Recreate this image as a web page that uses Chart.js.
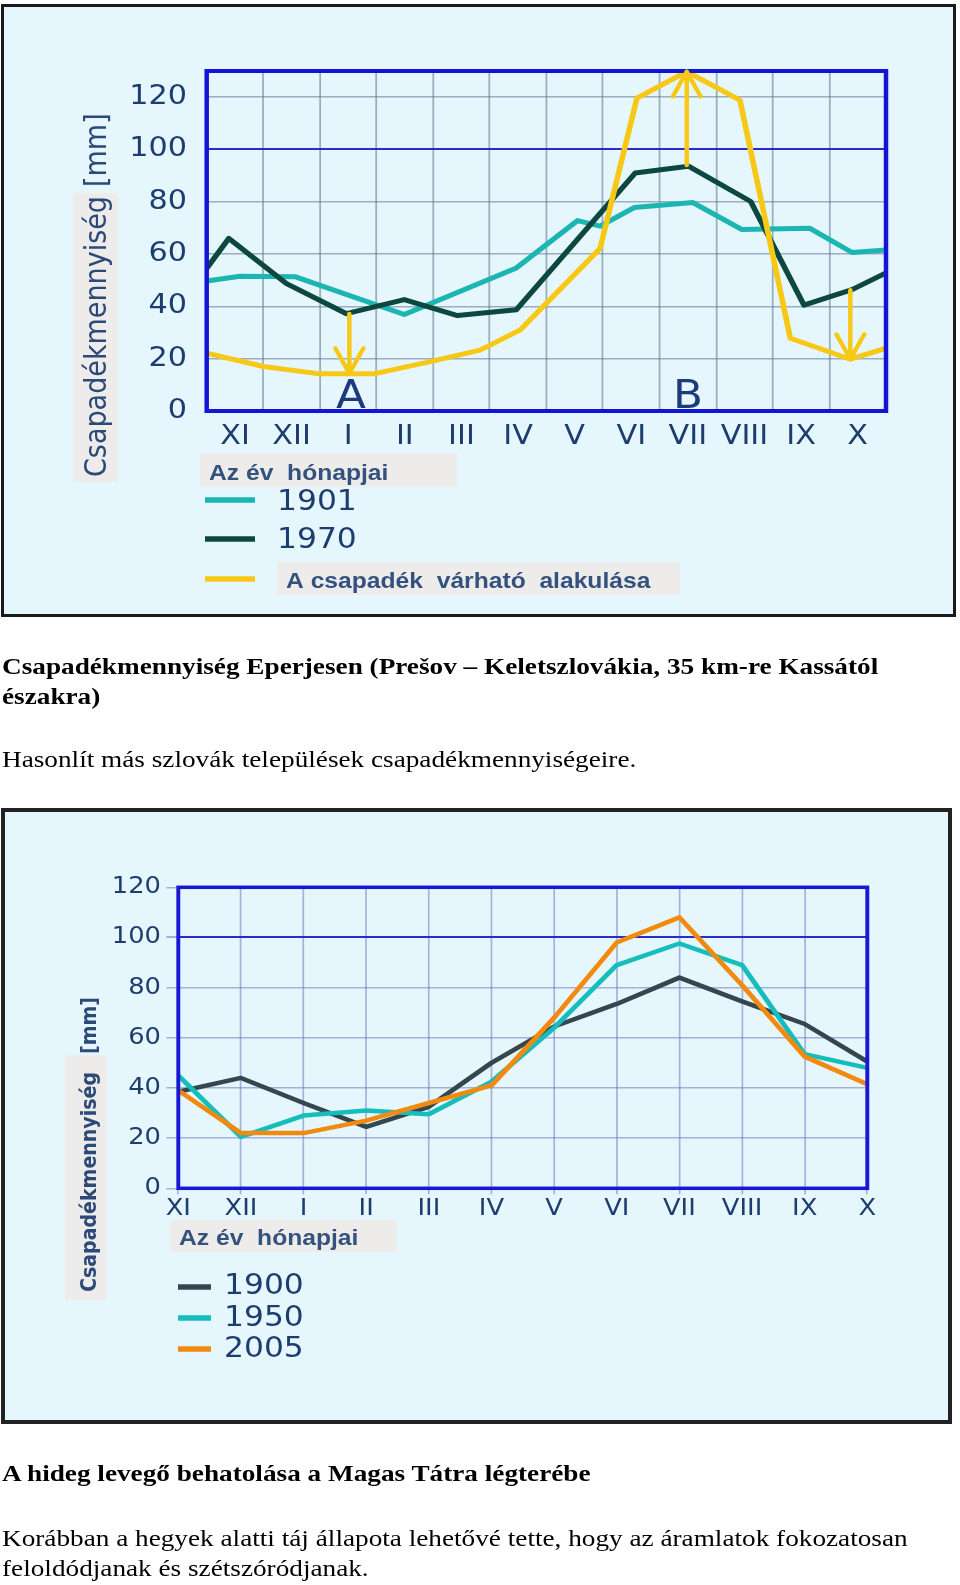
<!DOCTYPE html>
<html><head><meta charset="utf-8">
<script src="https://cdn.jsdelivr.net/npm/chart.js@4.4.1/dist/chart.umd.min.js"></script>
<style>
html,body{margin:0;padding:0;background:#fff;}
body{width:960px;height:1585px;position:relative;overflow:hidden;}
.box{position:absolute;box-sizing:border-box;background:#e5f6fc;}
#box1{left:1px;top:4px;width:955px;height:613px;border:3px solid #1a1a1a;}
#box2{left:1px;top:808px;width:951px;height:616px;border:4px solid #222;}
canvas{position:absolute;left:0;}
#c1{top:0;}
#c2{top:800px;}
.txt{position:absolute;left:0;top:0;width:800px;height:1585px;transform-origin:0 0;transform:scaleX(1.2);font-family:'Liberation Serif','Times New Roman',serif;font-size:22.7px;color:#000;}
.ln{position:absolute;left:1.7px;white-space:nowrap;line-height:1;}
.b{font-weight:bold;}
</style></head>
<body>
<div class="box" id="box1"></div>
<div class="box" id="box2"></div>
<canvas id="c1" width="857" height="620"></canvas>
<canvas id="c2" width="857" height="630"></canvas>
<div class="txt">
  <div class="ln b" style="top:656px">Csapadékmennyiség Eperjesen (Prešov – Keletszlovákia, 35 km-re Kassától</div>
  <div class="ln b" style="top:686px">északra)</div>
  <div class="ln" style="top:749px">Hasonlít más szlovák települések csapadékmennyiségeire.</div>
  <div class="ln b" style="top:1463px">A hideg levegő behatolása a Magas Tátra légterébe</div>
  <div class="ln" style="top:1528px">Korábban a hegyek alatti táj állapota lehetővé tette, hogy az áramlatok fokozatosan</div>
  <div class="ln" style="top:1558px">feloldódjanak és szétszóródjanak.</div>
</div>
<script>
// ---------- data ----------
const months = ['XI','XII','I','II','III','IV','V','VI','VII','VIII','IX','X'];

// chart 1 (x = month index, XI = 0)
const series1Names = ['1901', '1970', 'A csapadék  várható  alakulása'];
const c1X1901 = [-0.5, 0.09, 1.07, 2.99, 4.97, 6.05, 6.45, 7.05, 8.09, 8.95, 10.15, 10.9, 11.5];
const c1Y1901 = [49.7, 51.5, 51.3, 36.9, 54.7, 72.8, 70.7, 77.8, 79.7, 69.4, 69.9, 60.6, 61.6];
const c1X1970 = [-0.5, -0.11, 0.91, 1.97, 2.99, 3.93, 4.97, 7.07, 8.01, 9.11, 10.05, 10.9, 11.5];
const c1Y1970 = [54.5, 66.0, 48.7, 37.2, 42.6, 36.5, 38.7, 91.0, 93.6, 80.1, 40.5, 46.4, 52.8];
const c1XForecast = [-0.5, 0.5, 1.5, 2.45, 3.45, 4.33, 5.04, 6.45, 7.1, 7.98, 8.92, 9.81, 10.87, 11.5];
const c1YForecast = [22.1, 17.0, 14.2, 14.2, 18.9, 23.3, 31.0, 62.2, 119.6, 129.8, 118.9, 27.8, 19.8, 24.0];
const arrowX = [2.02, 7.98, 10.87];
const arrowFrom = [37.2, 94.0, 46.3];
const arrowTo = [14.4, 129.8, 19.8];
const markText = ['A', 'B'];
const markX = [2.05, 8.0];

// chart 2 (one value per month)
const series2Names = ['1900', '1950', '2005'];
const c2Y1900 = [38.5, 44.0, 34.0, 24.5, 32.5, 50.0, 64.5, 73.5, 84.0, 74.5, 65.5, 50.5];
const c2Y1950 = [45.0, 20.5, 29.0, 31.0, 29.5, 42.5, 64.0, 89.0, 97.6, 89.0, 53.5, 48.0];
const c2Y2005 = [39.0, 22.0, 22.0, 27.0, 34.0, 41.0, 68.0, 98.0, 108.0, 81.0, 52.5, 41.5];
const yTicksShown = [0, 20, 40, 60, 80, 100, 120];

// ---------- style ----------
const NAVY = '#1d3d6e', TITLE = '#2b4a78', LEGT = '#34527f', LABELBG = '#eeecea';
const TEAL1 = '#1bb6b1', DARK1 = '#0d4840', YELLOW = '#f7c816';
const DARK2 = '#34474f', TEAL2 = '#15bdbd', ORANGE = '#f28a10';
const GRID1 = 'rgba(95,115,140,0.55)', GRID2 = 'rgba(100,110,185,0.5)', BLUEL = '#2a2ad2';
const W = 857, S = 960 / W;

const pts = (xs, ys) => xs.map((x, i) => ({x, y: ys[i]}));
const idx = ys => ys.map((y, i) => ({x: i, y}));

function fillR(c, oy, x, y, w, h, col) { c.fillStyle = col; c.fillRect(x / S, y - oy, w / S, h); }
function txt(c, oy, s, x, y, font, col, rot) {
  c.save(); c.font = font; c.fillStyle = col; c.textAlign = 'left'; c.textBaseline = 'alphabetic';
  c.translate(x / S, y - oy); if (rot) c.rotate(-Math.PI / 2); c.fillText(s, 0, 0); c.restore();
}
function swatch(c, oy, x1, x2, y, col, lw) {
  c.save(); c.strokeStyle = col; c.lineWidth = lw; c.beginPath(); c.moveTo(x1 / S, y - oy); c.lineTo(x2 / S, y - oy); c.stroke(); c.restore();
}
function makeStretch(oy, decor, frameCol, frameW) {
  return {
    id: 'stretch',
    beforeDraw(ch) { const c = ch.ctx; c.save(); c.setTransform(S, 0, 0, 1, 0, 0); },
    afterDatasetsDraw(ch) {
      const c = ch.ctx, a = ch.chartArea;
      c.save(); c.strokeStyle = frameCol; c.lineWidth = frameW;
      c.strokeRect(a.left, a.top, a.right - a.left, a.bottom - a.top); c.restore();
    },
    afterDraw(ch) { decor(ch, ch.ctx, oy); ch.ctx.restore(); }
  };
}

function decor1(ch, c, oy) {
  fillR(c, oy, 73, 193, 45, 289, LABELBG);
  fillR(c, oy, 200, 453, 257, 34, LABELBG);
  fillR(c, oy, 277, 562, 403, 33, LABELBG);
  txt(c, oy, 'Csapadékmennyiség', 106, 477, '27px "DejaVu Sans"', TITLE, true);
  txt(c, oy, '[mm]', 106, 187, '27px "DejaVu Sans"', TITLE, true);
  txt(c, oy, 'Az év  hónapjai', 209, 480, 'bold 22px "Liberation Sans"', LEGT, false);
  const cols = [TEAL1, DARK1, YELLOW], ys = [500, 539, 579];
  for (let i = 0; i < 3; i++) swatch(c, oy, 205, 255, ys[i], cols[i], 5.5);
  txt(c, oy, series1Names[0], 277, 510, '28px "DejaVu Sans"', NAVY, false);
  txt(c, oy, series1Names[1], 277, 548, '28px "DejaVu Sans"', NAVY, false);
  txt(c, oy, series1Names[2], 286, 588, 'bold 22px "Liberation Sans"', LEGT, false);
  // arrows
  const xs = ch.scales.x, ysc = ch.scales.y;
  c.save(); c.strokeStyle = YELLOW; c.lineWidth = 4; c.lineCap = 'round'; c.lineJoin = 'round';
  for (let i = 0; i < arrowX.length; i++) {
    const px = xs.getPixelForValue(arrowX[i]);
    const y1 = ysc.getPixelForValue(arrowFrom[i]), y2 = ysc.getPixelForValue(arrowTo[i]);
    const dir = y1 > y2 ? 1 : -1;
    c.beginPath(); c.moveTo(px, y1); c.lineTo(px, y2);
    c.moveTo(px - 14 / S, y2 + dir * 25); c.lineTo(px, y2); c.lineTo(px + 14 / S, y2 + dir * 25);
    c.stroke();
  }
  c.restore();
  c.save(); c.font = '39px "DejaVu Sans"'; c.fillStyle = '#1b3b7b'; c.textAlign = 'center'; c.textBaseline = 'alphabetic';
  for (let i = 0; i < markText.length; i++) c.fillText(markText[i], xs.getPixelForValue(markX[i]), ysc.getPixelForValue(0) - 3);
  c.restore();
}

function decor2(ch, c, oy) {
  fillR(c, oy, 65, 1055, 42, 245, LABELBG);
  fillR(c, oy, 170, 1220, 227, 32, LABELBG);
  txt(c, oy, 'Csapadékmennyiség', 96, 1292, 'bold 19px "DejaVu Sans"', TITLE, true);
  txt(c, oy, '[mm]', 96, 1054, 'bold 19px "DejaVu Sans"', TITLE, true);
  txt(c, oy, 'Az év  hónapjai', 179, 1245, 'bold 22px "Liberation Sans"', LEGT, false);
  const cols = [DARK2, TEAL2, ORANGE], ys = [1287, 1318, 1349], tb = [1294, 1326, 1357];
  for (let i = 0; i < 3; i++) {
    swatch(c, oy, 178, 211, ys[i], cols[i], 5.5);
    txt(c, oy, series2Names[i], 224, tb[i], '28px "DejaVu Sans"', NAVY, false);
  }
}

const noPlug = {legend: {display: false}, tooltip: {enabled: false}};

// ---------- chart 1 ----------
const cv1 = document.getElementById('c1');
const ch1 = new Chart(cv1, {
  type: 'line',
  data: {datasets: [
    {label: series1Names[0], data: pts(c1X1901, c1Y1901), borderColor: TEAL1, borderWidth: 5, order: 2},
    {label: series1Names[1], data: pts(c1X1970, c1Y1970), borderColor: DARK1, borderWidth: 5, order: 1},
    {label: series1Names[2], data: pts(c1XForecast, c1YForecast), borderColor: YELLOW, borderWidth: 5, order: 0}
  ]},
  options: {
    responsive: false, animation: false, devicePixelRatio: 1,
    elements: {point: {radius: 0}, line: {tension: 0, borderJoinStyle: 'round', borderCapStyle: 'round'}},
    layout: {padding: {left: 0, top: 71, right: W - 886 / S, bottom: 620 - 411 - 60}},
    plugins: noPlug,
    scales: {
      x: {type: 'linear', min: -0.5, max: 11.5,
        afterBuildTicks: s => { s.ticks = months.map((m, i) => ({value: i})); },
        afterFit: s => { s.height = 60; },
        border: {display: false},
        grid: {offset: true, color: GRID1, lineWidth: 1.6, drawTicks: false},
        ticks: {callback: v => months[Math.round(v)], autoSkip: false, maxRotation: 0, padding: 10, color: NAVY, font: {family: 'DejaVu Sans', size: 27}}},
      y: {type: 'linear', min: 0, max: 130,
        afterFit: s => { s.width = 206.7 / S; },
        border: {display: false},
        grid: {drawTicks: false,
          color: c => (c.tick && Math.round(c.tick.value) === 100) ? BLUEL : GRID1,
          lineWidth: c => (c.tick && Math.round(c.tick.value) === 100) ? 2 : 1.6},
        ticks: {stepSize: 10, callback: v => yTicksShown.includes(Math.round(v)) ? String(Math.round(v)) : '',
          padding: 17.6, color: NAVY, font: {family: 'DejaVu Sans', size: 27}}}
    }
  },
  plugins: [makeStretch(0, decor1, '#1414d6', 4)]
});
cv1.width = 960; cv1.style.width = '960px'; cv1.style.height = '620px';
ch1.draw();

// ---------- chart 2 ----------
const cv2 = document.getElementById('c2');
const ch2 = new Chart(cv2, {
  type: 'line',
  data: {datasets: [
    {label: series2Names[0], data: idx(c2Y1900), borderColor: DARK2, borderWidth: 4.5, order: 2},
    {label: series2Names[1], data: idx(c2Y1950), borderColor: TEAL2, borderWidth: 4.5, order: 1},
    {label: series2Names[2], data: idx(c2Y2005), borderColor: ORANGE, borderWidth: 4.5, order: 0}
  ]},
  options: {
    responsive: false, animation: false, devicePixelRatio: 1,
    elements: {point: {radius: 0}, line: {tension: 0, borderJoinStyle: 'round', borderCapStyle: 'round'}},
    layout: {padding: {left: 0, top: 87.3, right: W - 867.3 / S, bottom: 630 - 388.3 - 45}},
    plugins: noPlug,
    scales: {
      x: {type: 'linear', min: 0, max: 11,
        afterBuildTicks: s => { s.ticks = months.map((m, i) => ({value: i})); },
        afterFit: s => { s.height = 45; },
        border: {display: false},
        grid: {color: GRID2, lineWidth: 1.5, drawTicks: true, tickLength: 6, tickColor: GRID2},
        ticks: {callback: v => months[Math.round(v)], autoSkip: false, maxRotation: 0, padding: 1, color: NAVY, font: {family: 'DejaVu Sans', size: 23}}},
      y: {type: 'linear', min: 0, max: 120,
        afterFit: s => { s.width = 178.3 / S; },
        border: {display: false},
        grid: {drawTicks: true, tickLength: 12 / S,
          color: c => (c.tick && Math.round(c.tick.value) === 100) ? BLUEL : GRID2,
          tickColor: GRID2,
          lineWidth: c => (c.tick && Math.round(c.tick.value) === 100) ? 2 : 1.5},
        ticks: {stepSize: 10, callback: v => yTicksShown.includes(Math.round(v)) ? String(Math.round(v)) : '',
          padding: 4.8, color: NAVY, font: {family: 'DejaVu Sans', size: 23}}}
    }
  },
  plugins: [makeStretch(800, decor2, '#1818d4', 3.5)]
});
cv2.width = 960; cv2.style.width = '960px'; cv2.style.height = '630px';
ch2.draw();
</script>
</body></html>
